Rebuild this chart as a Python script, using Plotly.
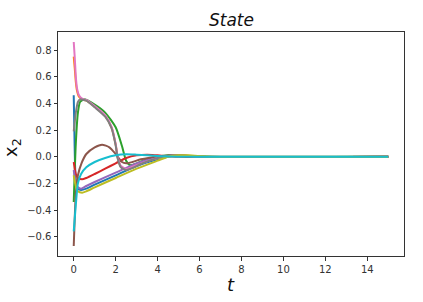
import plotly.graph_objects as go

# time samples per trajectory and x2 values
t_blue = [0, 0.03, 0.06, 0.1, 0.2, 0.35, 0.6, 1.0, 2.0, 3.0, 4.0, 4.7, 5.5, 7, 15]
x_blue = [0.46, 0.2, -0.05, -0.18, -0.24, -0.25, -0.24, -0.21, -0.14, -0.07, -0.02, 0.005, 0.005, 0, 0]

t_orange = [0, 0.05, 0.1, 0.15, 0.25, 0.4, 0.6, 1.0, 1.5, 1.8, 2.0, 2.1, 2.25, 2.5, 2.8, 3.2, 4, 5, 6, 15]
x_orange = [0.75, 0.66, 0.56, 0.5, 0.45, 0.43, 0.42, 0.375, 0.305, 0.22, 0.09, -0.01, -0.075, -0.095, -0.08, -0.05, -0.01, 0.01, 0, 0]

t_green = [0, 0.1, 0.2, 0.3, 0.5, 1.0, 1.5, 2.0, 2.3, 2.5, 2.7, 3.0, 3.5, 4.5, 6, 15]
x_green = [-0.34, 0.1, 0.33, 0.41, 0.43, 0.39, 0.33, 0.22, 0.08, -0.03, -0.065, -0.05, -0.02, 0.01, 0, 0]

t_red = [0, 0.1, 0.2, 0.4, 0.6, 1.0, 1.5, 2.0, 2.5, 3.0, 3.5, 4.0, 5.0, 15]
x_red = [-0.04, -0.13, -0.16, -0.17, -0.16, -0.13, -0.09, -0.05, -0.01, 0.01, 0.015, 0.01, 0, 0]

t_purple = [0, 0.1, 0.2, 0.35, 0.6, 1.0, 2.0, 3.0, 4.0, 4.5, 5.0, 6.0, 15]
x_purple = [-0.1, -0.2, -0.23, -0.24, -0.22, -0.19, -0.12, -0.05, -0.005, 0.005, 0.01, 0, 0]

t_brown = [0, 0.05, 0.1, 0.2, 0.37, 0.6, 1.0, 1.35, 1.7, 2.0, 2.3, 2.5, 2.8, 3.2, 4.0, 5.0, 6.0, 15]
x_brown = [-0.67, -0.45, -0.28, -0.14, -0.05, 0.02, 0.07, 0.09, 0.07, 0.02, -0.04, -0.05, -0.04, -0.02, 0, 0.01, 0, 0]

t_pink = [0, 0.05, 0.1, 0.15, 0.25, 0.4, 0.6, 1.0, 1.5, 1.8, 2.0, 2.1, 2.25, 2.5, 2.8, 3.2, 4, 5, 6, 15]
x_pink = [0.86, 0.74, 0.6, 0.52, 0.46, 0.435, 0.425, 0.38, 0.31, 0.225, 0.095, -0.005, -0.07, -0.09, -0.075, -0.05, -0.01, 0.01, 0, 0]

t_gray = [0, 0.1, 0.2, 0.3, 0.6, 1.0, 1.5, 1.8, 2.0, 2.1, 2.25, 2.5, 2.8, 3.2, 4, 5, 6, 15]
x_gray = [0.19, 0.33, 0.41, 0.43, 0.42, 0.37, 0.3, 0.215, 0.085, -0.015, -0.08, -0.1, -0.085, -0.055, -0.01, 0.01, 0, 0]

t_olive = [0, 0.1, 0.2, 0.4, 0.6, 1.0, 2.0, 3.0, 4.0, 4.5, 5.0, 5.5, 6.0, 7.0, 15]
x_olive = [-0.14, -0.22, -0.26, -0.27, -0.26, -0.23, -0.16, -0.09, -0.03, 0.0, 0.01, 0.01, 0.005, 0, 0]

t_cyan = [0, 0.1, 0.2, 0.35, 0.6, 1.0, 1.5, 2.0, 2.5, 3.0, 4.0, 5.0, 15]
x_cyan = [-0.56, -0.36, -0.2, -0.13, -0.08, -0.04, -0.01, 0.01, 0.018, 0.015, 0.005, 0, 0]

series = [
    (t_blue, x_blue, "#1f77b4"),
    (t_orange, x_orange, "#ff7f0e"),
    (t_green, x_green, "#2ca02c"),
    (t_red, x_red, "#d62728"),
    (t_purple, x_purple, "#9467bd"),
    (t_brown, x_brown, "#8c564b"),
    (t_pink, x_pink, "#e377c2"),
    (t_gray, x_gray, "#7f7f7f"),
    (t_olive, x_olive, "#bcbd22"),
    (t_cyan, x_cyan, "#17becf"),
]

y_ticks = [-0.6, -0.4, -0.2, 0.0, 0.2, 0.4, 0.6, 0.8]
y_ticktext = [("−" if v < 0 else "") + f"{abs(v):.1f}" for v in y_ticks]
x_ticks = [0, 2, 4, 6, 8, 10, 12, 14]

fig = go.Figure()
for t, x, c in series:
    fig.add_trace(go.Scatter(x=t, y=x, mode="lines",
                             line=dict(color=c, width=2, shape="spline", smoothing=0.6),
                             showlegend=False, hoverinfo="skip"))

axis_common = dict(showgrid=False, zeroline=False, showline=True, linecolor="#333",
                   linewidth=1, mirror=True, ticks="outside", ticklen=3.5, tickwidth=1,
                   tickcolor="#333", tickfont=dict(family="DejaVu Sans", size=10, color="#333"))

fig.update_layout(
    width=423, height=302,
    margin=dict(l=58, r=19, t=32, b=46),
    paper_bgcolor="white", plot_bgcolor="white",
    xaxis=dict(range=[-0.75, 15.75], tickvals=x_ticks, **axis_common),
    yaxis=dict(range=[-0.745, 0.935], tickvals=y_ticks, ticktext=y_ticktext, **axis_common),
    annotations=[
        dict(text="<i>State</i>", xref="paper", yref="paper", x=0.5, y=1.054,
             xanchor="center", yanchor="middle", showarrow=False,
             font=dict(family="DejaVu Sans", size=17, color="#111")),
        dict(text="<i>t</i>", xref="paper", yref="paper", x=0.5, y=-0.129,
             xanchor="center", yanchor="middle", showarrow=False,
             font=dict(family="DejaVu Sans", size=18, color="#111")),
        dict(text="x<sub>2</sub>", xref="paper", yref="paper", x=-0.133, y=0.487,
             xanchor="center", yanchor="middle", showarrow=False, textangle=-90,
             font=dict(family="DejaVu Sans", size=18, color="#111")),
    ],
)

fig.write_html("out.html")
